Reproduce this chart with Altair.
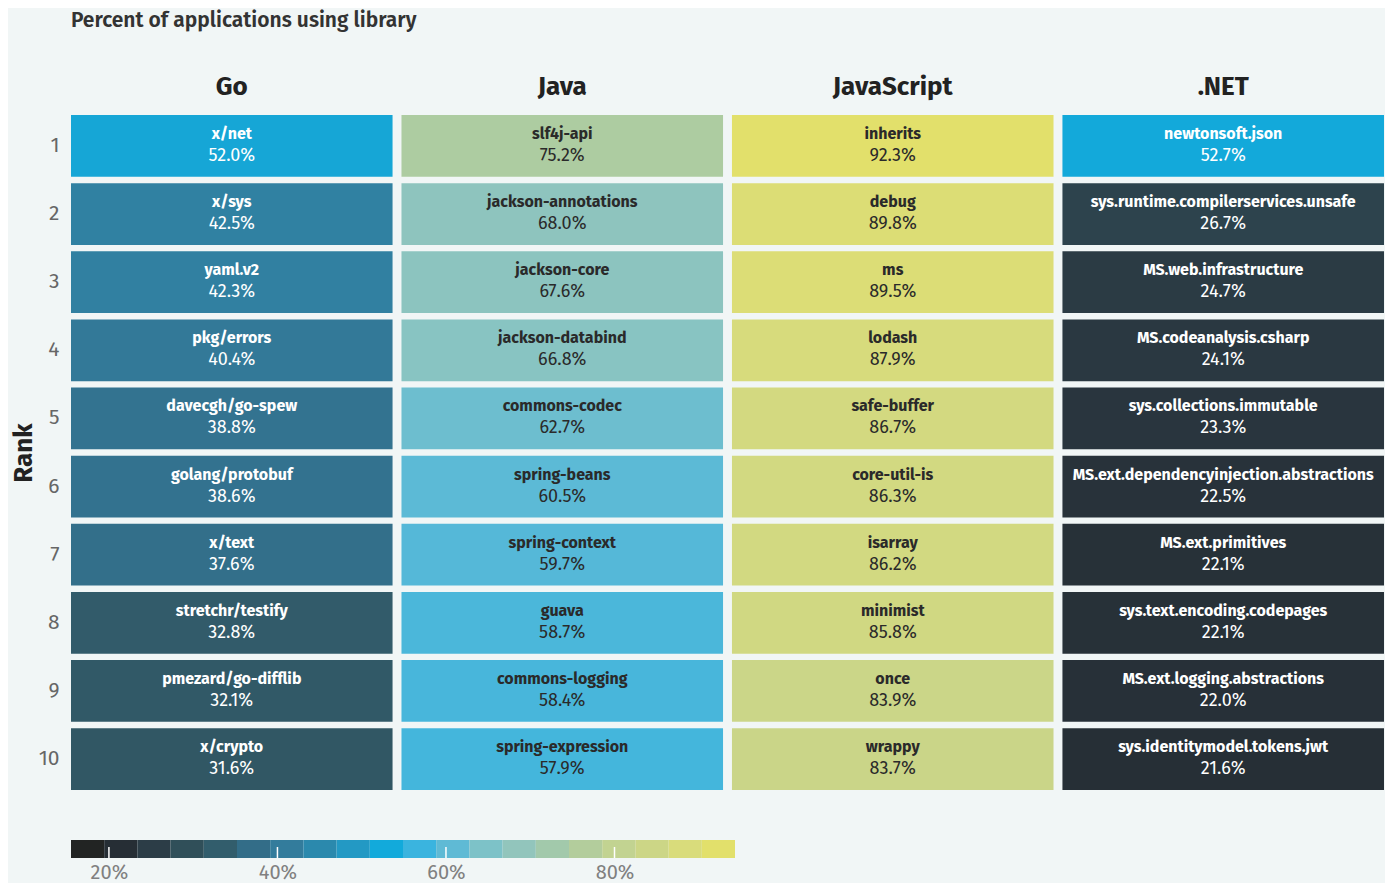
import altair as alt
import pandas as pd

# ---- data ----
languages = ["Go", "Java", "JavaScript", ".NET"]
ranks = [1, 2, 3, 4, 5, 6, 7, 8, 9, 10]

go_libs = ["x/net", "x/sys", "yaml.v2", "pkg/errors", "davecgh/go-spew", "golang/protobuf",
           "x/text", "stretchr/testify", "pmezard/go-difflib", "x/crypto"]
go_pct = [52.0, 42.5, 42.3, 40.4, 38.8, 38.6, 37.6, 32.8, 32.1, 31.6]

java_libs = ["slf4j-api", "jackson-annotations", "jackson-core", "jackson-databind", "commons-codec",
             "spring-beans", "spring-context", "guava", "commons-logging", "spring-expression"]
java_pct = [75.2, 68.0, 67.6, 66.8, 62.7, 60.5, 59.7, 58.7, 58.4, 57.9]

js_libs = ["inherits", "debug", "ms", "lodash", "safe-buffer", "core-util-is", "isarray",
           "minimist", "once", "wrappy"]
js_pct = [92.3, 89.8, 89.5, 87.9, 86.7, 86.3, 86.2, 85.8, 83.9, 83.7]

net_libs = ["newtonsoft.json", "sys.runtime.compilerservices.unsafe", "MS.web.infrastructure",
            "MS.codeanalysis.csharp", "sys.collections.immutable",
            "MS.ext.dependencyinjection.abstractions", "MS.ext.primitives",
            "sys.text.encoding.codepages", "MS.ext.logging.abstractions",
            "sys.identitymodel.tokens.jwt"]
net_pct = [52.7, 26.7, 24.7, 24.1, 23.3, 22.5, 22.1, 22.1, 22.0, 21.6]

# colour palette (scale stops) and legend bins
palette = ["#222423", "#262e35", "#2c3d47", "#304f59", "#325d6c", "#336d88", "#337c9c",
           "#2b89ad", "#2399c4", "#12aadb", "#3ab4df", "#5fbad5", "#7dc2c8", "#92c5bc",
           "#a2c9ab", "#b3cd9c", "#c2d391", "#ccd686", "#d9dc7b", "#e2e06b"]
stops = [17.47, 21.41, 25.35, 29.29, 33.23, 37.17, 41.11, 45.05, 48.99, 52.93,
         56.87, 60.81, 64.75, 68.69, 72.63, 76.57, 80.51, 84.45, 88.39, 92.33]
bin_lo = [15.5, 19.44, 23.38, 27.32, 31.26, 35.2, 39.14, 43.08, 47.02, 50.96,
          54.9, 58.84, 62.78, 66.72, 70.66, 74.6, 78.54, 82.48, 86.42, 90.36]
bin_hi = [19.44, 23.38, 27.32, 31.26, 35.2, 39.14, 43.08, 47.02, 50.96, 54.9,
          58.84, 62.78, 66.72, 70.66, 74.6, 78.54, 82.48, 86.42, 90.36, 94.3]
legend_ticks = [20, 40, 60, 80]

FONT = "Fira Sans, Lato, sans-serif"
BG = "#f1f6f6"

rows = []
for lang, libs, pcts in [("Go", go_libs, go_pct), ("Java", java_libs, java_pct),
                         ("JavaScript", js_libs, js_pct), (".NET", net_libs, net_pct)]:
    for r, lib, p in zip(ranks, libs, pcts):
        rows.append({"lang": lang, "rank": r, "lib": lib, "pct": p})
df = pd.DataFrame(rows)

color_scale = alt.Scale(type="linear", domain=stops, range=palette, interpolate="rgb")

base = alt.Chart(df).encode(
    x=alt.X("lang:N", sort=languages,
            scale=alt.Scale(paddingInner=0.027, paddingOuter=0),
            axis=alt.Axis(orient="top", title=None, ticks=False, domain=False,
                          labelFontSize=26, labelFontWeight="bold", labelColor="#222222",
                          labelPadding=16, labelFont=FONT, labelAngle=0)),
    y=alt.Y("rank:O", sort=ranks,
            scale=alt.Scale(paddingInner=0.093, paddingOuter=0),
            axis=alt.Axis(title="Rank", ticks=False, domain=False, labelFontSize=21,
                          labelColor="#666666", labelPadding=12, labelFont=FONT,
                          titleFont=FONT, titleFontSize=26, titleFontWeight="bold",
                          titleColor="#222222", titlePadding=2)),
)

text_color = alt.condition(alt.datum.pct < 55, alt.value("#ffffff"), alt.value("#2a2a2a"))

cells = base.mark_rect().encode(color=alt.Color("pct:Q", scale=color_scale, legend=None))
names = base.mark_text(fontSize=16, fontWeight="bold", font=FONT, dy=-12, baseline="middle").encode(
    text="lib:N", color=text_color)
pcts = base.transform_calculate(label="format(datum.pct, '.1f') + '%'").mark_text(
    fontSize=18, font=FONT, dy=10, baseline="middle").encode(text="label:N", color=text_color)

heat = alt.layer(cells, names, pcts).properties(
    width=1313, height=675,
    title=alt.TitleParams("Percent of applications using library", anchor="start", frame="group",
                          fontSize=21, fontWeight=600, color="#333333", font=FONT, offset=42),
)

leg_df = pd.DataFrame({"lo": bin_lo, "hi": bin_hi, "mid": stops})
tick_df = pd.DataFrame({"v": legend_ticks})
lx = alt.Scale(domain=[15.5, 94.3], nice=False, zero=False)

leg_rects = alt.Chart(leg_df).mark_rect().encode(
    x=alt.X("lo:Q", scale=lx,
            axis=alt.Axis(values=legend_ticks, labelExpr="datum.value + '%'", ticks=False,
                          domain=False, grid=False, title=None, labelFontSize=20,
                          labelColor="#808080", labelPadding=4, labelFont=FONT)),
    x2="hi:Q",
    color=alt.Color("mid:Q", scale=color_scale, legend=None),
)
leg_ticks = alt.Chart(tick_df).mark_rule(color="white", strokeWidth=1.5).encode(
    x=alt.X("v:Q", scale=lx), y=alt.value(7), y2=alt.value(18))
legend = alt.layer(leg_rects, leg_ticks).properties(width=664, height=18)

chart = alt.vconcat(heat, legend, spacing=50).properties(
    background=BG, padding={"left": 2, "top": 2, "right": 0, "bottom": 1}
).configure_view(stroke=None).configure_axis(grid=False)

chart.save("out.html", embed_options={"renderer": "svg", "actions": False})
